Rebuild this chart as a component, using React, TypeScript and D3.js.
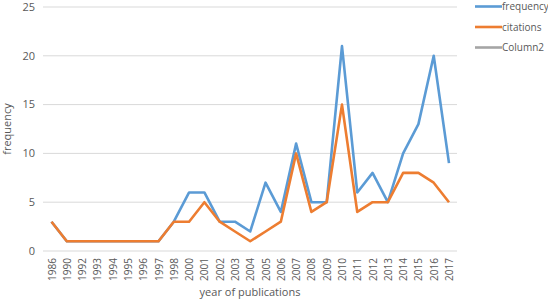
import React from "react";
import * as d3 from "d3";

const years = ["1986","1990","1992","1993","1994","1995","1996","1997","1998","2000","2001","2002","2003","2004","2005","2006","2007","2008","2009","2010","2011","2012","2013","2014","2015","2016","2017"];
const frequency = [3,1,1,1,1,1,1,1,3,6,6,3,3,2,7,4,11,5,5,21,6,8,5,10,13,20,9];
const citations = [3,1,1,1,1,1,1,1,3,3,5,3,2,1,2,3,10,4,5,15,4,5,5,8,8,7,5];
const yTicks = [0,5,10,15,20,25];
const legendItems = [
  { name: "frequency", color: "#5B9BD5" },
  { name: "citations", color: "#ED7D31" },
  { name: "Column2", color: "#A5A5A5" },
];

const W = 548, H = 300;
const FONT = "'Open Sans', 'DejaVu Sans', sans-serif";

export default function App() {
  const x = d3.scalePoint<string>().domain(years).range([51.5, 449]);
  const y = d3.scaleLinear().domain([0, 25]).range([251, 7]);
  const line = d3.line<number>().x((_, i) => x(years[i]) as number).y(d => y(d));
  return (
    <svg width={W} height={H} style={{ position: "absolute", left: 0, top: 0, background: "#fff" }} fontFamily={FONT}>
      {yTicks.map(t => (
        <g key={t}>
          <line x1={43} x2={457} y1={y(t)} y2={y(t)} stroke="#d9d9d9" strokeWidth={1} />
          <text x={35} y={y(t)} dy="0.35em" textAnchor="end" fontSize={11} fill="#595959">{t}</text>
        </g>
      ))}
      {years.map(yr => (
        <text key={yr} transform={`translate(${(x(yr) as number) + 4},258) rotate(-90)`} textAnchor="end" fontSize={10} fill="#595959">{yr}</text>
      ))}
      <path d={line(frequency) || ""} fill="none" stroke="#5B9BD5" strokeWidth={2.6} strokeLinejoin="round" />
      <path d={line(citations) || ""} fill="none" stroke="#ED7D31" strokeWidth={2.6} strokeLinejoin="round" />
      <text transform="translate(11,129) rotate(-90)" textAnchor="middle" fontSize={11} fill="#595959">frequency</text>
      <text x={250} y={296} textAnchor="middle" fontSize={11} fill="#595959">year of publications</text>
      {legendItems.map((d, i) => (
        <g key={d.name} transform={`translate(475,${6.5 + i * 20.5})`}>
          <line x1={0} x2={27} y1={0} y2={0} stroke={d.color} strokeWidth={2.6} />
          <text x={27} y={0} dy="0.35em" fontSize={10} fill="#595959">{d.name}</text>
        </g>
      ))}
    </svg>
  );
}
